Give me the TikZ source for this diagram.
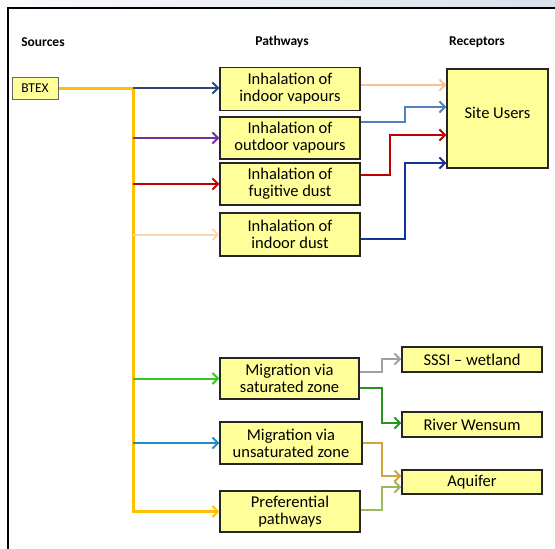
\documentclass[tikz,border=0pt]{standalone}
\usepackage{fontspec}
\setmainfont{Carlito}
\usetikzlibrary{arrows.meta,calc}
\definecolor{boxfill}{RGB}{255,255,153}
\definecolor{trunkc}{RGB}{255,192,0}
\definecolor{navyc}{RGB}{38,74,125}
\definecolor{purplec}{RGB}{112,48,160}
\definecolor{redc}{RGB}{192,0,0}
\definecolor{peachL}{RGB}{252,213,181}
\definecolor{peachR}{RGB}{250,192,144}
\definecolor{lblue}{RGB}{79,129,189}
\definecolor{dblue}{RGB}{20,50,150}
\definecolor{greenc}{RGB}{50,200,30}
\definecolor{bluec}{RGB}{30,140,200}
\definecolor{grayc}{RGB}{160,160,160}
\definecolor{dgreen}{RGB}{40,150,30}
\definecolor{goldc}{RGB}{210,165,60}
\definecolor{lgreen}{RGB}{155,187,89}
\definecolor{bandL}{RGB}{250,251,253}
\definecolor{bandR}{RGB}{218,224,236}
\begin{document}
\begin{tikzpicture}[x=1pt,y=-1pt,
  box/.style={draw=black!85,line width=1.3pt,fill=boxfill,align=center,
    font=\fontsize{16.5}{17}\selectfont,inner sep=0pt,minimum width=140pt},
  rbox/.style={box,minimum height=25pt},
  hdr/.style={font=\fontsize{13.5}{15}\selectfont\bfseries},
  conn/.style={line width=2pt,-{Straight Barb[length=5.5pt,width=11pt,line width=2pt]}}]
\useasboundingbox (0,0) rectangle (555,549);
% frame
\shade[left color=bandL,right color=bandR] (0,0) rectangle (555,8);
\draw[line width=1.2pt] (8,549) -- (8,8) -- (555,8);
% headers
\node[hdr] (hs) at (43,42) {Sources};
\node[hdr] (hp) at (282,42) {Pathways};
\node[hdr] (hr) at (477,42) {Receptors};
% source
\node[box,minimum width=46pt,minimum height=22pt,font=\fontsize{13.5}{15}\selectfont,line width=1pt,draw=black!60] (btex) at (35,88) {BTEX};
% pathways
\node[box,minimum height=43pt] (b1) at (290,89) {Inhalation of\\indoor vapours};
\node[box,minimum height=42pt] (b2) at (290,138) {Inhalation of\\outdoor vapours};
\node[box,minimum height=42pt] (b3) at (290,184) {Inhalation of\\fugitive dust};
\node[box,minimum height=43pt] (b4) at (290,234.5) {Inhalation of\\indoor dust};
\node[box,minimum height=41pt,minimum width=139pt] (sat) at (289.5,378.5) {Migration via\\saturated zone};
\node[box,minimum height=42pt,minimum width=142pt] (unsat) at (291,443) {Migration via\\unsaturated zone};
\node[box,minimum height=41pt] (pref) at (290,511.5) {Preferential\\pathways};
% receptors
\node[box,minimum width=101pt,minimum height=99pt,label={[font=\fontsize{16.5}{17}\selectfont,yshift=6pt]center:Site Users}] (site) at (497.5,118.5) {};
\node[rbox] (sssi) at (472,359.5) {SSSI -- wetland};
\node[rbox] (river) at (472,424.5) {River Wensum};
\node[rbox,minimum height=24pt] (aq) at (472,482) {Aquifer};
% trunk
\coordinate (tt) at (133,88);
\draw[conn,trunkc,line width=3pt] (btex.east) -- (tt) |- (pref.west);
\draw[conn,navyc] (tt) -- (tt -| b1.west);
\draw[conn,purplec] (b2.west -| tt) -- (b2.west);
\draw[conn,redc] (b3.west -| tt) -- (b3.west);
\draw[conn,peachL] (b4.west -| tt) -- (b4.west);
\draw[conn,greenc] (sat.west -| tt) -- (sat.west);
\draw[conn,bluec] (unsat.west -| tt) -- (unsat.west);
% to site users
\draw[conn,peachR] ([yshift=4pt]b1.east) -- ([yshift=4pt]b1.east -| site.west);
\draw[conn,lblue] ([yshift=16pt]b2.east) -| (405,107) -- (site.west |- 0,107);
\draw[conn,redc] ([yshift=9pt]b3.east) -| (390,135) -- (site.west |- 0,135);
\draw[conn,dblue] ([yshift=-4.5pt]b4.east) -| (405,163) -- (site.west |- 0,163);
% to water receptors
\draw[conn,grayc] ([yshift=6.5pt]sat.east) -| (382,359) -- (sssi.west |- 0,359);
\draw[conn,dgreen] ([yshift=-9.5pt]sat.east) -| (382,423) -- (river.west |- 0,423);
\draw[conn,goldc] (unsat.east) -| (382,476) -- (aq.west |- 0,476);
\draw[conn,lgreen] ([yshift=1.5pt]pref.east) -| (382,487) -- (aq.west |- 0,487);
\end{tikzpicture}
\end{document}
